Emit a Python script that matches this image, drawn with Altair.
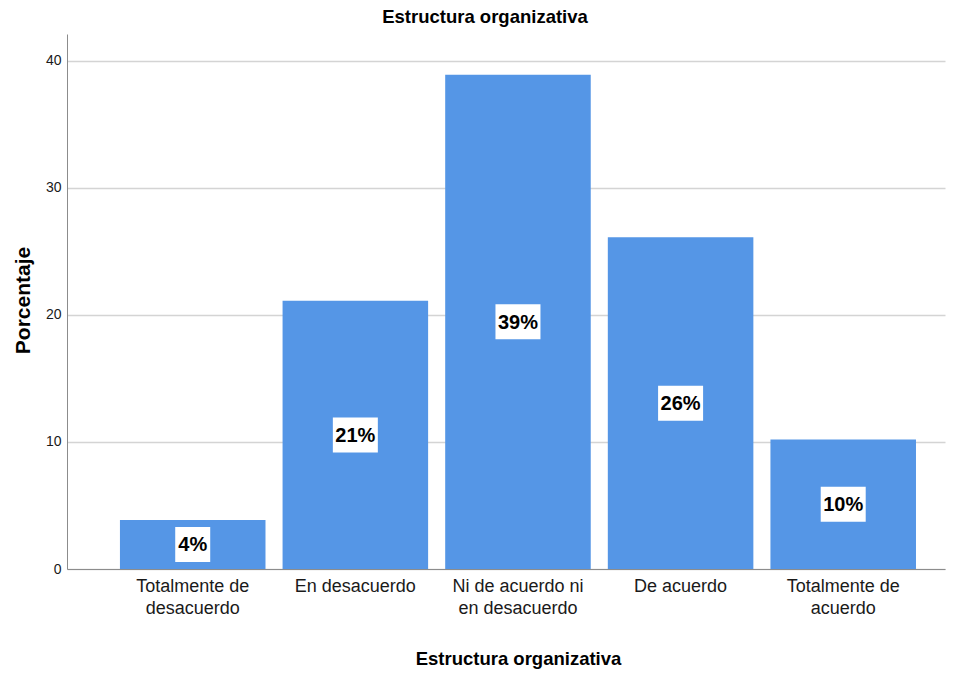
import altair as alt
import pandas as pd

categories = ["Totalmente de desacuerdo", "En desacuerdo", "Ni de acuerdo ni en desacuerdo",
              "De acuerdo", "Totalmente de acuerdo"]
values = [3.86, 21.1, 38.9, 26.1, 10.2]
labels = ["4%", "21%", "39%", "26%", "10%"]
label_lines = [["Totalmente de", "desacuerdo"], ["En desacuerdo"], ["Ni de acuerdo ni", "en desacuerdo"],
               ["De acuerdo"], ["Totalmente de", "acuerdo"]]
y_ticks = [0, 10, 20, 30, 40]

df = pd.DataFrame({"cat": categories, "val": values, "lab": labels})

expr = ""
for c, lines in zip(categories, label_lines):
    arr = "[" + ", ".join("'" + l + "'" for l in lines) + "]"
    expr += f"datum.value == '{c}' ? {arr} : "
expr += "datum.value"

FONT = "Liberation Sans"
BLUE = "#5596e6"

x_enc = alt.X("cat:N", sort=categories,
              scale=alt.Scale(paddingInner=0.105, paddingOuter=0.252, align=0.646),
              axis=alt.Axis(title="Estructura organizativa", labelExpr=expr, labelAngle=0,
                            ticks=False, domainColor="#8c8c8c", labelPadding=8,
                            labelLineHeight=22, labelFontSize=18, labelFont=FONT,
                            labelColor="#1a1a1a", titleFont=FONT, titleFontSize=18.5,
                            titleFontWeight="bold", titleColor="#000000",
                            titleX=451, titleY=95, titleBaseline="alphabetic", titleAlign="center",
                            grid=False))

y_scale = alt.Scale(domain=[0, 42.1], nice=False)

bars = alt.Chart(df).mark_bar(color=BLUE).encode(
    x=x_enc,
    y=alt.Y("val:Q", scale=y_scale,
            axis=alt.Axis(title="Porcentaje", values=y_ticks, ticks=False, grid=True,
                          gridColor="#d4d4d4", gridWidth=1.5, domainColor="#8c8c8c",
                          labelFont=FONT, labelFontSize=14, labelColor="#1a1a1a",
                          labelPadding=6, titleFont=FONT, titleFontSize=21,
                          titleFontWeight="bold", titleColor="#000000",
                          titleX=-38, titleY=266, titleBaseline="alphabetic",
                          titleAlign="center", titleAngle=270)),
)

boxes = alt.Chart(df).transform_calculate(
    lo="datum.val/2 - 1.38", hi="datum.val/2 + 1.38",
    w="length(datum.lab) == 2 ? 35 : 45"
).mark_bar(color="white").encode(
    x=alt.X("cat:N", sort=categories),
    y=alt.Y("lo:Q", scale=y_scale),
    y2="hi:Q",
    size=alt.Size("w:Q", scale=None, legend=None),
)

texts = alt.Chart(df).transform_calculate(
    mid="datum.val/2"
).mark_text(font=FONT, fontSize=20, fontWeight="bold", color="black",
            baseline="middle", align="center", dy=1).encode(
    x=alt.X("cat:N", sort=categories),
    y=alt.Y("mid:Q", scale=y_scale),
    text="lab:N",
)

chart = alt.layer(bars, boxes, texts).properties(
    width=878, height=535,
    background="white",
    title=alt.TitleParams("Estructura organizativa", font=FONT, fontSize=18.5, fontWeight="bold",
                          color="black", anchor="middle", offset=8, dx=-21),
    autosize=alt.AutoSizeParams(type="none"),
    padding={"left": 67, "top": 34, "right": 18, "bottom": 104},
).configure_view(stroke=None)

chart.save("out.html", embed_options={"renderer": "svg", "actions": False})
